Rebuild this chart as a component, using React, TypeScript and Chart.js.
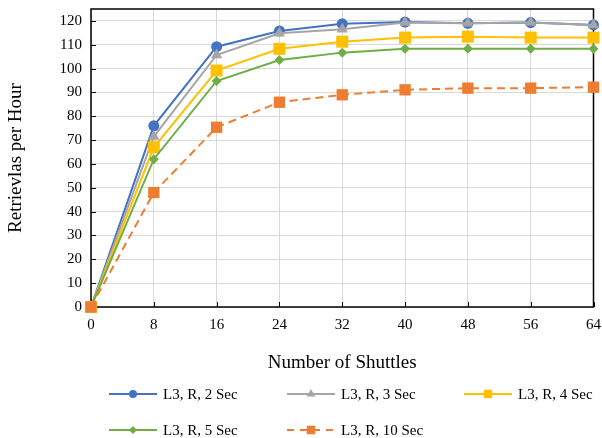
import React, { useEffect, useRef } from 'react';
import { Chart, registerables } from 'chart.js';

Chart.register(...registerables);

const shuttles = ['0', '8', '16', '24', '32', '40', '48', '56', '64'];
const sec2 = [0, 76, 109.2, 115.8, 118.8, 119.5, 119, 119.3, 118.3];
const sec3 = [0, 71.5, 105.7, 114.8, 116.5, 119.3, 119, 119.3, 118.3];
const sec4 = [0, 67, 99.2, 108.3, 111.3, 113, 113.4, 113, 113];
const sec5 = [0, 62, 94.8, 103.6, 106.7, 108.3, 108.3, 108.3, 108.3];
const sec10 = [0, 48, 75.4, 85.9, 89, 91.1, 91.8, 91.8, 92.2];
const seriesLabels = ['L3, R, 2 Sec', 'L3, R, 3 Sec', 'L3, R, 4 Sec', 'L3, R, 5 Sec', 'L3, R, 10 Sec'];
const yMin = 0;
const yMax = 125;
const yStep = 10;

const FONT = "'Liberation Serif', 'Times New Roman', serif";

const styles = [
  { color: '#4472C4', point: 'circle', radius: 5.5, legendRadius: 4, dash: [] as number[] },
  { color: '#A5A5A5', point: 'triangle', radius: 6.5, legendRadius: 5, dash: [] as number[] },
  { color: '#FFC000', point: 'rect', radius: 8.5, legendRadius: 6, dash: [] as number[] },
  { color: '#70AD47', point: 'rectRot', radius: 5, legendRadius: 4, dash: [] as number[] },
  { color: '#ED7D31', point: 'rect', radius: 8, legendRadius: 6, dash: [8, 5] },
];
const seriesData = [sec2, sec3, sec4, sec5, sec10];

function drawMarker(ctx: CanvasRenderingContext2D, type: string, x: number, y: number, r: number, color: string) {
  ctx.save();
  ctx.fillStyle = color;
  ctx.setLineDash([]);
  ctx.beginPath();
  if (type === 'circle') {
    ctx.arc(x, y, r, 0, Math.PI * 2);
  } else if (type === 'triangle') {
    const h = r * 1.5;
    const w = r * 0.866 * 2;
    ctx.moveTo(x, y - h * 0.66);
    ctx.lineTo(x + w / 2, y + h * 0.34);
    ctx.lineTo(x - w / 2, y + h * 0.34);
    ctx.closePath();
  } else if (type === 'rect') {
    const s = r * Math.SQRT1_2;
    ctx.rect(x - s, y - s, 2 * s, 2 * s);
  } else if (type === 'rectRot') {
    ctx.moveTo(x, y - r);
    ctx.lineTo(x + r, y);
    ctx.lineTo(x, y + r);
    ctx.lineTo(x - r, y);
    ctx.closePath();
  }
  ctx.fill();
  ctx.restore();
}

const framePlugin = {
  id: 'frame',
  beforeDatasetsDraw(chart: any) {
    const { ctx, chartArea } = chart;
    const { left, right, top, bottom } = chartArea;
    ctx.save();
    ctx.strokeStyle = '#000';
    ctx.lineWidth = 1.5;
    ctx.strokeRect(left, top, right - left, bottom - top);
    ctx.lineWidth = 1;
    const ys = chart.scales.y;
    ys.ticks.forEach((_t: any, i: number) => {
      const py = Math.round(ys.getPixelForTick(i)) + 0.5;
      ctx.beginPath();
      ctx.moveTo(left, py);
      ctx.lineTo(left + 5, py);
      ctx.stroke();
    });
    const xs = chart.scales.x;
    xs.ticks.forEach((_t: any, i: number) => {
      const px = Math.round(xs.getPixelForTick(i)) + 0.5;
      ctx.beginPath();
      ctx.moveTo(px, bottom);
      ctx.lineTo(px, bottom - 5);
      ctx.stroke();
    });
    ctx.restore();
  },
};

const legendCols = [109, 287, 464];
const legendRows = [394, 430];

const legendPlugin = {
  id: 'customLegend',
  afterDraw(chart: any) {
    const ctx: CanvasRenderingContext2D = chart.ctx;
    ctx.save();
    ctx.font = `15px ${FONT}`;
    ctx.textBaseline = 'middle';
    ctx.textAlign = 'left';
    chart.data.datasets.forEach((ds: any, i: number) => {
      const st = styles[i];
      const x = legendCols[i % 3];
      const y = legendRows[Math.floor(i / 3)];
      ctx.save();
      ctx.strokeStyle = st.color;
      ctx.lineWidth = 2;
      ctx.setLineDash(st.dash.length ? [7, 6] : []);
      ctx.beginPath();
      ctx.moveTo(x, y);
      ctx.lineTo(x + 48, y);
      ctx.stroke();
      ctx.restore();
      drawMarker(ctx, st.point, x + 24, y, st.legendRadius, st.color);
      ctx.fillStyle = '#000';
      ctx.fillText(ds.label, x + 54, y + 1);
    });
    ctx.restore();
  },
};

export default function App() {
  const ref = useRef<HTMLCanvasElement | null>(null);
  useEffect(() => {
    if (!ref.current) return;
    const chart = new Chart(ref.current, {
      type: 'line',
      data: {
        labels: shuttles,
        datasets: seriesData.map((d, i) => ({
          label: seriesLabels[i],
          data: d,
          borderColor: styles[i].color,
          backgroundColor: styles[i].color,
          borderWidth: 2,
          borderDash: styles[i].dash,
          pointStyle: styles[i].point,
          pointRadius: styles[i].radius,
          pointBorderWidth: 0,
          pointBackgroundColor: styles[i].color,
          tension: 0,
          clip: false,
          order: 4 - i,
        })),
      },
      options: {
        animation: false,
        responsive: false,
        maintainAspectRatio: false,
        layout: { padding: { left: 0, top: 9, right: 6, bottom: 61 } },
        plugins: {
          legend: { display: false },
          tooltip: { enabled: false },
        },
        scales: {
          x: {
            type: 'category',
            offset: false,
            grid: { color: '#d9d9d9', lineWidth: 1, drawTicks: false },
            border: { display: false },
            ticks: { color: '#000', font: { family: FONT, size: 15 }, padding: 9, maxRotation: 0, autoSkip: false },
            title: { display: true, text: 'Number of Shuttles', color: '#000', font: { family: FONT, size: 19 }, padding: { top: 0, bottom: 2.6 } },
            afterFit(scale: any) {
              scale.height = 70;
              scale.paddingLeft = 0;
              scale.paddingRight = 0;
            },
          },
          y: {
            min: yMin,
            max: yMax,
            grid: { color: '#d9d9d9', lineWidth: 1, drawTicks: false },
            border: { display: false },
            ticks: { stepSize: yStep, includeBounds: false, color: '#000', font: { family: FONT, size: 15 }, padding: 9 },
            title: { display: true, text: 'Retrievlas per Hour', color: '#000', font: { family: FONT, size: 19 }, padding: { top: 5, bottom: 0 } },
            afterFit(scale: any) {
              scale.width = 91;
              scale.paddingTop = 0;
              scale.paddingBottom = 0;
            },
          },
        },
      },
      plugins: [framePlugin, legendPlugin],
    } as any);
    return () => chart.destroy();
  }, []);
  return (
    <div style={{ position: 'fixed', left: 0, top: 0, width: 602, height: 438, background: '#fff' }}>
      <canvas ref={ref} width={602} height={438} style={{ width: 602, height: 438 }} />
    </div>
  );
}
